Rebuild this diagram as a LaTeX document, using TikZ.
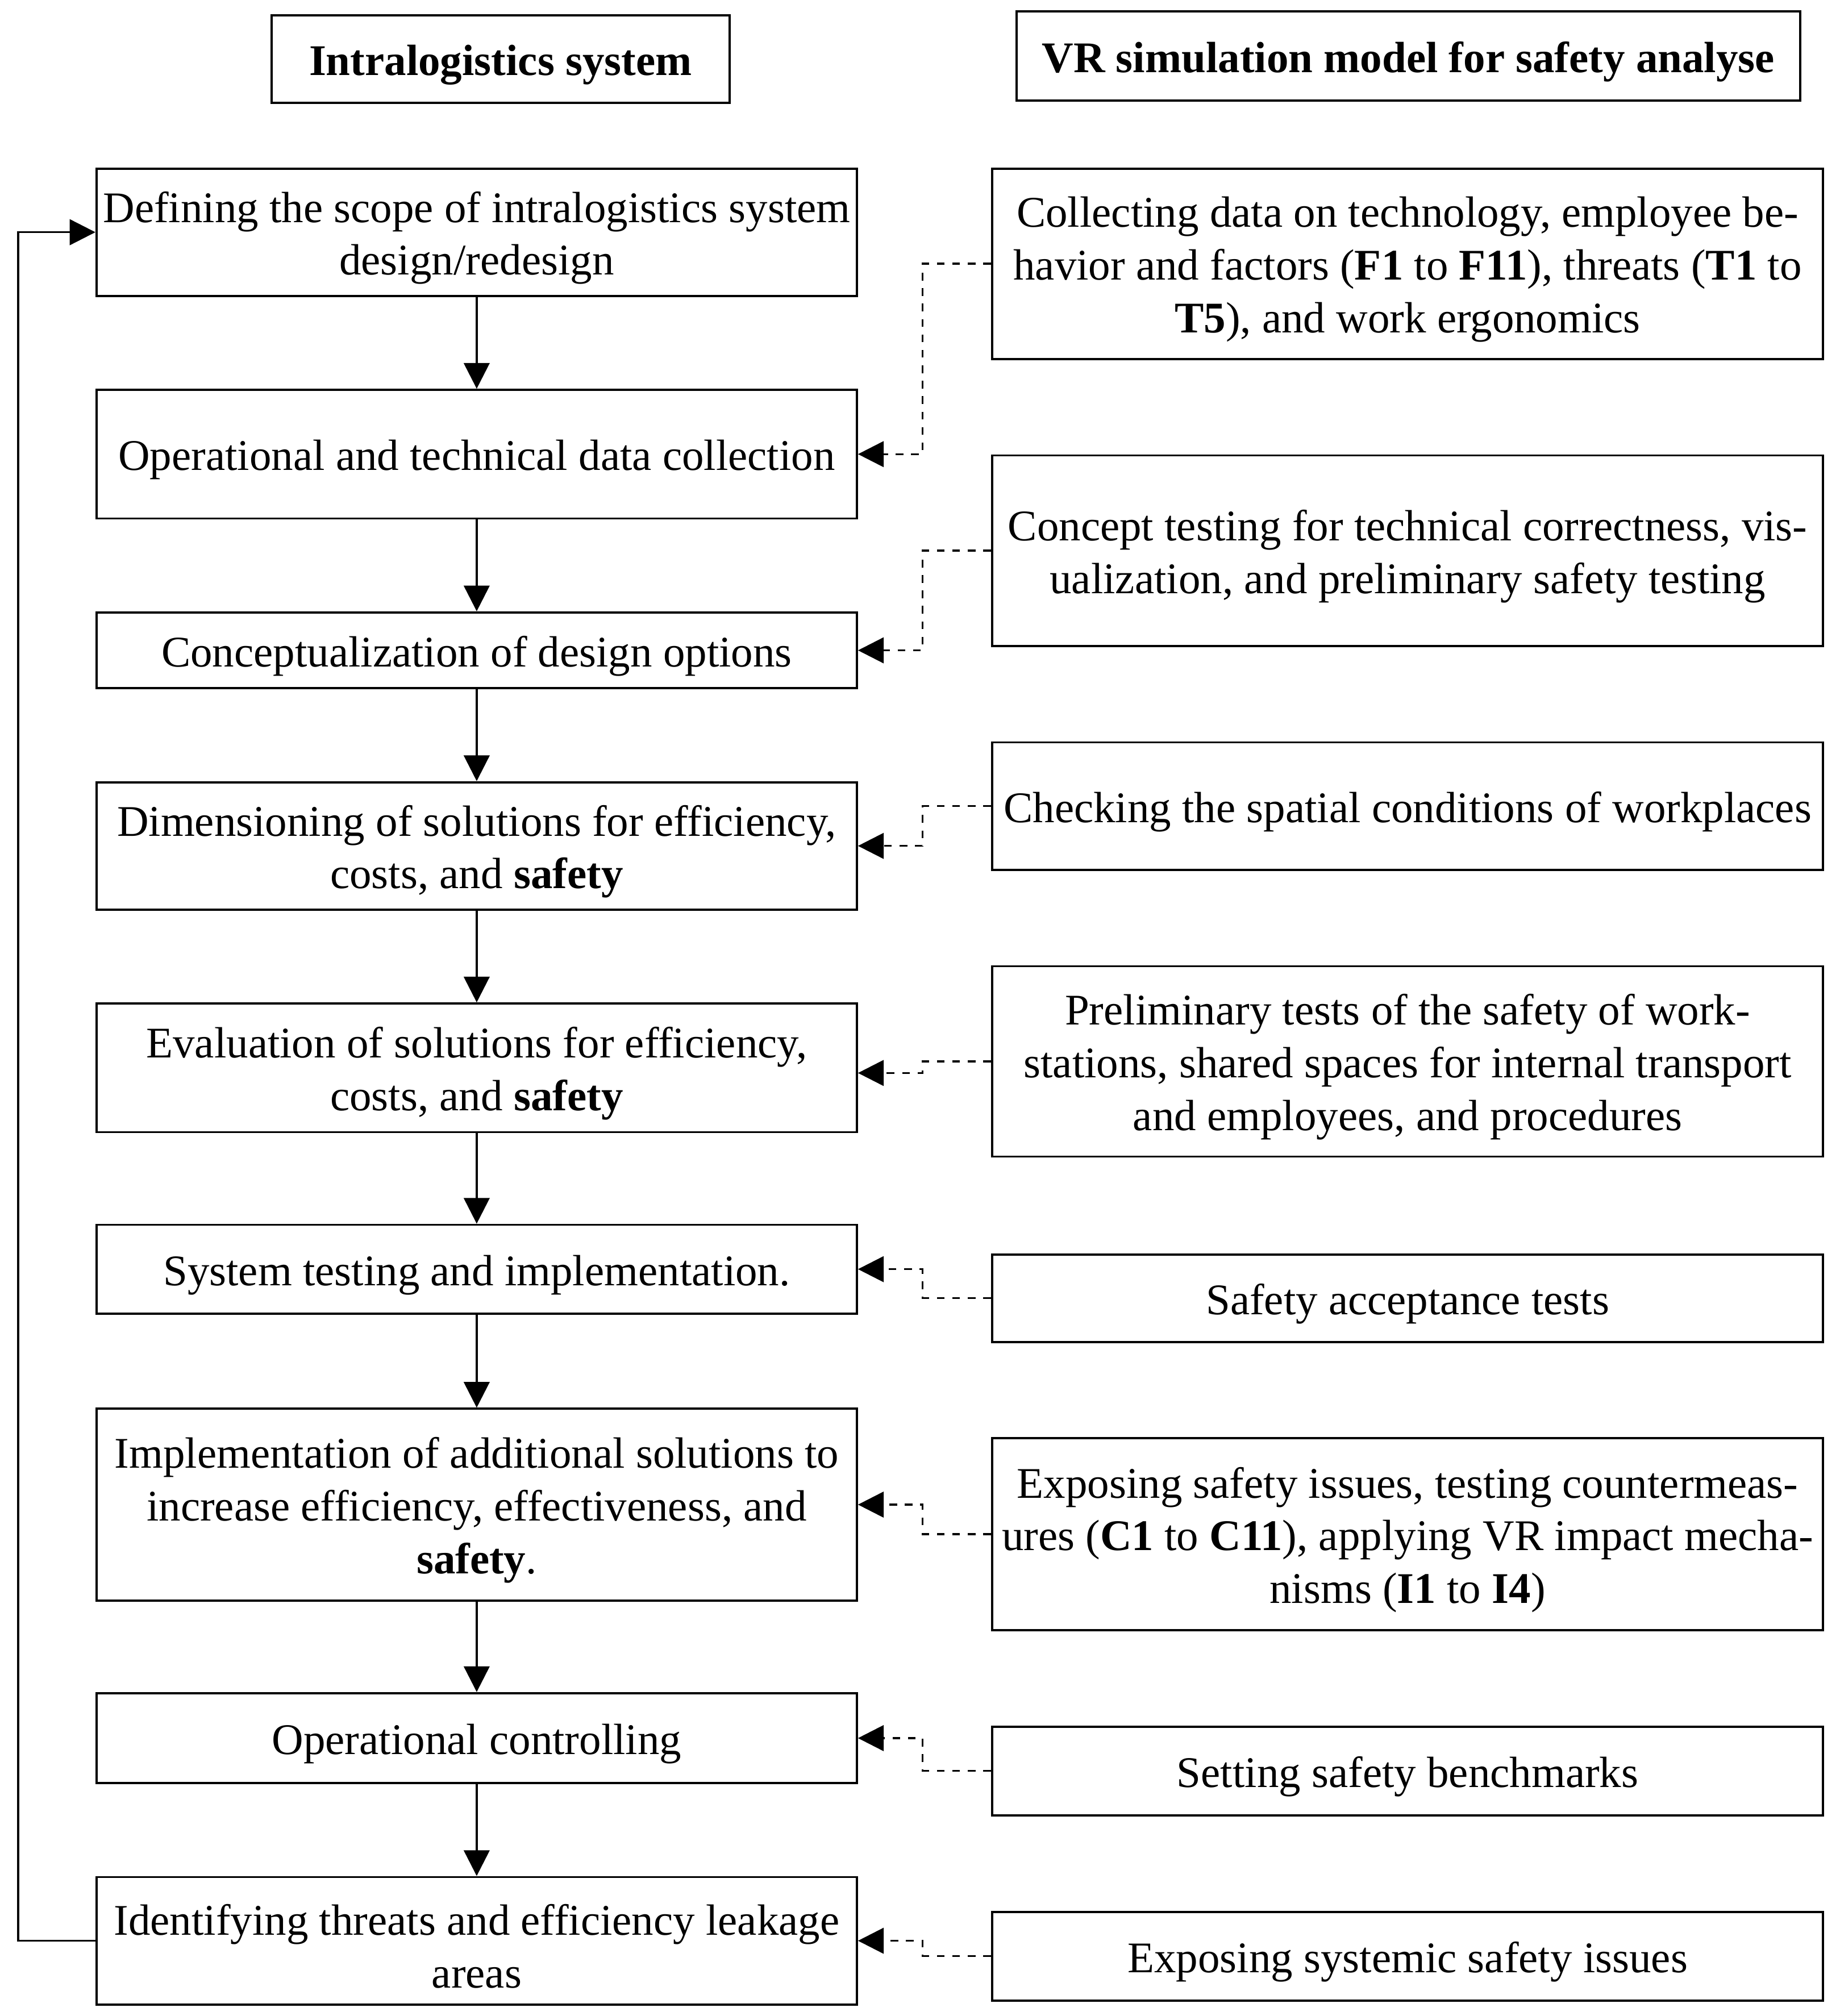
\documentclass[tikz,border=0pt]{standalone}
\usepackage{fontspec}
\setmainfont{Liberation Serif}
\usetikzlibrary{arrows.meta}
\begin{document}
\begin{tikzpicture}[x=0.5pt,y=-0.5pt,
  box/.style={draw, line width=0.85pt, inner sep=0pt},
  lbox/.style={box, minimum width=295.5pt},
  rbox/.style={box, minimum width=323pt},
  txt/.style={align=center, inner sep=0pt, font=\fontsize{17}{20.5}\selectfont},
  htxt/.style={txt, font=\fontsize{17}{20.5}\selectfont\bfseries},
  arr/.style={line width=0.75pt, -{Triangle[length=10pt,width=10pt]}},
  darr/.style={line width=0.75pt, dash pattern=on 3pt off 3pt, -{Triangle[length=10pt,width=10pt]}}
]
\useasboundingbox (0,0) rectangle (1430,1567);
\def\dy{-2.2pt}
% headers
\node[box, minimum width=178pt, minimum height=34pt] (h1) at (389,46) {};
\node[htxt] (h1t) at ([yshift=\dy]h1.center) {Intralogistics system};
\node[box, minimum width=304.5pt, minimum height=34.5pt] (h2) at (1094.5,43.5) {};
\node[htxt] (h2t) at ([yshift=\dy]h2.center) {VR simulation model for safety analyse};
% left column
\node[lbox, minimum height=49.5pt] (b1) at (370.5,180.5) {};
\node[txt] (b1t) at ([yshift=\dy]b1.center) {Defining the scope of intralogistics system\\design/redesign};
\node[lbox, minimum height=50pt] (b2) at (370.5,353) {};
\node[txt] (b2t) at ([yshift=\dy]b2.center) {Operational and technical data collection};
\node[lbox, minimum height=29.5pt] (b3) at (370.5,505.5) {};
\node[txt] (b3t) at ([yshift=\dy]b3.center) {Conceptualization of design options};
\node[lbox, minimum height=49.5pt] (b4) at (370.5,657.5) {};
\node[txt] (b4t) at ([yshift=\dy]b4.center) {Dimensioning of solutions for efficiency,\\costs, and \textbf{safety}};
\node[lbox, minimum height=50pt] (b5) at (370.5,830) {};
\node[txt] (b5t) at ([yshift=\dy]b5.center) {Evaluation of solutions for efficiency,\\costs, and \textbf{safety}};
\node[lbox, minimum height=34.5pt] (b6) at (370.5,986.5) {};
\node[txt] (b6t) at ([yshift=\dy]b6.center) {System testing and implementation.};
\node[lbox, minimum height=74.5pt] (b7) at (370.5,1169.5) {};
\node[txt] (b7t) at ([yshift=\dy]b7.center) {Implementation of additional solutions to\\increase efficiency, effectiveness, and\\\textbf{safety}.};
\node[lbox, minimum height=35pt] (b8) at (370.5,1351) {};
\node[txt] (b8t) at ([yshift=\dy]b8.center) {Operational controlling};
\node[lbox, minimum height=49.5pt] (b9) at (370.5,1508.5) {};
\node[txt] (b9t) at ([yshift=\dy]b9.center) {Identifying threats and efficiency leakage\\areas};
% right column
\node[rbox, minimum height=74pt] (r1) at (1094,205) {};
\node[txt] (r1t) at ([yshift=\dy]r1.center) {Collecting data on technology, employee be-\\havior and factors (\textbf{F1} to \textbf{F11}), threats (\textbf{T1} to\\\textbf{T5}), and work ergonomics};
\node[rbox, minimum height=74pt] (r2) at (1094,428) {};
\node[txt] (r2t) at ([yshift=\dy]r2.center) {Concept testing for technical correctness, vis-\\ualization, and preliminary safety testing};
\node[rbox, minimum height=49.5pt] (r3) at (1094,626.5) {};
\node[txt] (r3t) at ([yshift=\dy]r3.center) {Checking the spatial conditions of workplaces};
\node[rbox, minimum height=74pt] (r4) at (1094,825) {};
\node[txt] (r4t) at ([yshift=\dy]r4.center) {Preliminary tests of the safety of work-\\stations, shared spaces for internal transport\\and employees, and procedures};
\node[rbox, minimum height=34pt] (r5) at (1094,1009) {};
\node[txt] (r5t) at ([yshift=\dy]r5.center) {Safety acceptance tests};
\node[rbox, minimum height=74.5pt] (r6) at (1094,1192.5) {};
\node[txt] (r6t) at ([yshift=\dy]r6.center) {Exposing safety issues, testing countermeas-\\ures (\textbf{C1} to \textbf{C11}), applying VR impact mecha-\\nisms (\textbf{I1} to \textbf{I4})};
\node[rbox, minimum height=34.5pt] (r7) at (1094,1376.5) {};
\node[txt] (r7t) at ([yshift=\dy]r7.center) {Setting safety benchmarks};
\node[rbox, minimum height=34.5pt] (r8) at (1094,1520.5) {};
\node[txt] (r8t) at ([yshift=\dy]r8.center) {Exposing systemic safety issues};
% solid flow
\foreach \a/\b in {b1/b2,b2/b3,b3/b4,b4/b5,b5/b6,b6/b7,b7/b8,b8/b9}
  \draw[arr] (\a.south) -- (\b.north);
\draw[arr] (b9.west) -- ++(-60,0) |- (b1.west);
% dashed
\draw[darr] (r1.west) -- ++(-53,0) |- (b2.east);
\draw[darr] (r2.west) -- ++(-53,0) |- (b3.east);
\draw[darr] (r3.west) -- ++(-53,0) |- (b4.east);
\draw[darr] (r4.west) -- ++(-53,0) |- ([yshift=-2pt]b5.east);
\draw[darr] (r5.west) -- ++(-53,0) |- (b6.east);
\draw[darr] (r6.west) -- ++(-53,0) |- (b7.east);
\draw[darr] (r7.west) -- ++(-53,0) |- (b8.east);
\draw[darr] (r8.west) -- ++(-53,0) |- (b9.east);
\end{tikzpicture}
\end{document}
